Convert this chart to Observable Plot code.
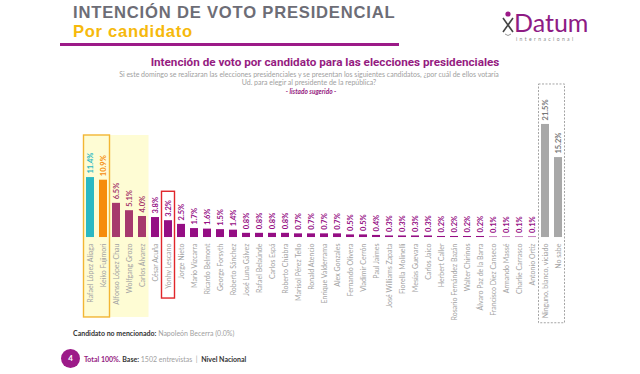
<!DOCTYPE html>
<html><head><meta charset="utf-8">
<script src="https://cdn.jsdelivr.net/npm/d3@7"></script>
<script src="https://cdn.jsdelivr.net/npm/@observablehq/plot@0.6"></script>
<style>
body{margin:0;background:#fff;}
#page{position:relative;width:640px;height:374px;overflow:hidden;font-family:Lato, sans-serif;background:#fff;}
#chart{position:absolute;left:0;top:0;}
.abs{position:absolute;white-space:nowrap;}
</style></head><body><div id="page">
<div id="chart"></div>
<div class="abs" style="left:73px;top:4px;font:700 16.6px/18.5px 'Liberation Sans',Arial,sans-serif;color:#6d6d76;letter-spacing:0.8px;">INTENCIÓN DE VOTO PRESIDENCIAL</div>
<div class="abs" style="left:73px;top:22.6px;font:700 16.6px/18.5px 'Liberation Sans',Arial,sans-serif;color:#f6b90c;letter-spacing:0.7px;">Por candidato</div>
<div class="abs" style="left:60px;top:43px;width:339px;height:3px;background:#9c1a88;"></div>
<svg class="abs" style="left:500px;top:10px;" width="16" height="30" viewBox="0 0 16 30">
  <circle cx="8" cy="4" r="2.6" fill="#9c1a88"/>
  <path d="M3 8 L13 22 M13 8 L3 22" stroke="#444" stroke-width="1.6" fill="none"/>
  <path d="M5 24 Q8 27 11 24" stroke="#999" stroke-width="1" fill="none"/>
</svg>
<div class="abs" style="left:514px;top:10px;font:400 25px/24px Lato,sans-serif;color:#8e1b84;">Datum</div>
<div class="abs" style="left:516px;top:36px;font:400 5px/6px Lato,sans-serif;color:#888;letter-spacing:2.4px;">internacional</div>
<div class="abs" style="left:0;top:55px;width:650px;text-align:center;font:700 11.7px Roboto,sans-serif;color:#951b81;">Intención de voto por candidato para las elecciones presidenciales</div>
<div class="abs" style="left:0;top:70px;width:618px;text-align:center;font:400 7px/8px Lato,sans-serif;color:#a0a0a0;white-space:normal;">Si este domingo se realizaran las elecciones presidenciales y se presentan los siguientes candidatos, ¿por cuál de ellos votaría<br>Ud. para elegir al presidente de la república?</div>
<div class="abs" style="left:0;top:88px;width:622px;text-align:center;font:italic 700 6.5px Lato,sans-serif;color:#951b81;">- listado sugerido -</div>
<div class="abs" style="left:73px;top:329px;font:400 7px Lato,sans-serif;color:#a0a0a0;"><b style="color:#333;">Candidato no mencionado:</b> Napoleón Becerra (0.0%)</div>
<div class="abs" style="left:61px;top:349px;width:19px;height:19px;border-radius:50%;background:#9c1a88;color:#fff;font:700 8px/19px Lato,sans-serif;text-align:center;">4</div>
<div class="abs" style="left:84px;top:355px;font:400 7px Lato,sans-serif;color:#a0a0a0;"><b style="color:#951b81;">Total 100%.</b> <b style="color:#333;">Base:</b> 1502 entrevistas &nbsp;|&nbsp; <b style="color:#333;">Nivel Nacional</b></div>
</div>
<script>
const candidates = ["Rafael López Aliaga","Keiko Fujimori","Alfonso López Chau","Wolfgang Grozo","Carlos Álvarez","César Acuña","Yonhy Lescano","Jorge Nieto","Mario Vizcarra","Ricardo Belmont","George Forsyth","Roberto Sánchez","José Luna Gálvez","Rafael Belaúnde","Carlos Espá","Roberto Chiabra","Marisol Pérez Tello","Ronald Atencio","Enrique Valderrama","Alex Gonzales","Fernando Olivera","Vladimir Cerrón","Paul Jaimes","José Williams Zapata","Fiorella Molinelli","Mesías Guevara","Carlos Jaico","Herbert Caller","Rosario Fernández Bazán","Walter Chirinos","Álvaro Paz de la Barra","Francisco Diez Canseco","Armando Massé","Charlie Carrasco","Antonio Ortiz","Ninguno, blanco, viciado","No sabe"];
const values = [11.4,10.9,6.5,5.1,4.0,3.8,3.2,2.5,1.7,1.6,1.5,1.4,0.8,0.8,0.8,0.8,0.7,0.7,0.7,0.7,0.5,0.5,0.4,0.3,0.3,0.3,0.3,0.2,0.2,0.2,0.2,0.1,0.1,0.1,0.1,21.5,15.2];
const groups = ["rla","kf","mid","mid","mid","rest","rest","rest","rest","rest","rest","rest","rest","rest","rest","rest","rest","rest","rest","rest","rest","rest","rest","rest","rest","rest","rest","rest","rest","rest","rest","rest","rest","rest","rest","none","none"];

const barColors = {rla:"#2bb8c3", kf:"#f68c0c", mid:"#a6396d", rest:"#950e84", none:"#a8a8a8"};
const textColors = {rla:"#2bb8c3", kf:"#f68c0c", mid:"#a6396d", rest:"#950e84", none:"#777"};

const data = candidates.map((name, i) => ({name, value: values[i], group: groups[i]}));

const plot = Plot.plot({
  width: 640, height: 374,
  marginLeft: 69.1, marginRight: 62.5, marginTop: 110.8, marginBottom: 42.3,
  x: {domain: candidates, paddingInner: 0.42, paddingOuter: 0.21, axis: null},
  y: {domain: [-18, 24], axis: null},
  style: {fontFamily: "Lato, sans-serif", background: "transparent"},
  marks: [
    Plot.barY(data, {x: "name", y: "value", fill: d => barColors[d.group]}),
    Plot.text(data, {x: "name", y: "value", text: d => d.value.toFixed(1) + "%", rotate: -90, textAnchor: "start", dy: -4, fill: d => textColors[d.group], fontWeight: "bold", fontSize: 7.5}),
    Plot.text(data, {x: "name", y: 0, text: "name", rotate: -90, textAnchor: "end", dy: 6, fill: "#a3a3a3", fontSize: 7})
  ]
});
document.getElementById("chart").appendChild(plot);

// highlight boxes drawn through the plot's own scales
const xs = plot.scale("x"), ys = plot.scale("y");
const decor = [
  {from: "Rafael López Aliaga", to: "Carlos Álvarez", top: 19.4, bottom: -15.2, fill: "#fefcd4", stroke: "none"},
  {from: "Rafael López Aliaga", to: "Keiko Fujimori", top: 19.4, bottom: -15.2, fill: "none", stroke: "#f2b634", sw: 1.4},
  {from: "Yonhy Lescano", to: "Yonhy Lescano", top: 8.7, bottom: -11.6, fill: "none", stroke: "#e0262b", sw: 1.4},
  {from: "Ninguno, blanco, viciado", to: "No sabe", top: 29.1, bottom: -16.3, fill: "none", stroke: "#9a9a9a", sw: 0.9, dash: "2,1.5"}
];
const pad = (xs.step - xs.bandwidth) / 2;
const g = d3.select(plot).insert("g", "g");
const g2 = d3.select(plot).append("g");
decor.forEach((d, i) => {
  const x1 = xs.apply(d.from) - pad, x2 = xs.apply(d.to) + xs.bandwidth + pad;
  const y1 = ys.apply(d.top), y2 = ys.apply(d.bottom);
  (i === 0 ? g : g2).append("rect")
    .attr("x", x1).attr("y", y1).attr("width", x2 - x1).attr("height", y2 - y1)
    .attr("fill", d.fill).attr("stroke", d.stroke).attr("stroke-width", d.sw || 0)
    .attr("stroke-dasharray", d.dash || null);
});
</script>
</body></html>
